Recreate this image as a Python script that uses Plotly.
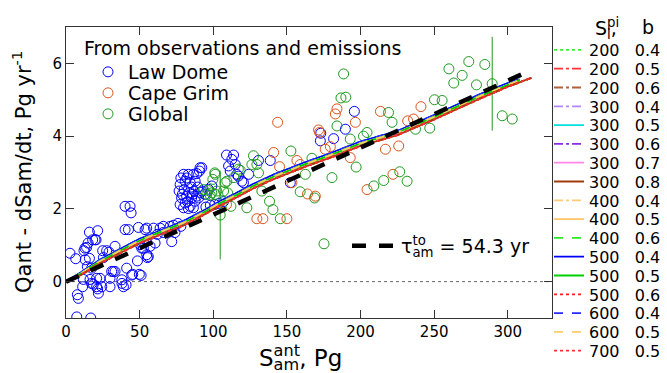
import plotly.graph_objects as go

FONT = "DejaVu Sans, Liberation Sans, Arial, sans-serif"

# ---------------- data ----------------
# Law Dome (blue circles): S_am^ant (Pg), Q_ant - dS_am/dt (Pg/yr)
LAW_X = [7.3, 16.8, 7.7, 8.4, 2.7, 6.6, 15.9, 21.5, 18.1, 20.4, 12.2, 14.0, 13.1, 15.9, 14.5, 17.4,
         24.9, 27.6, 25.4, 29.2, 11.8, 16.3, 20.8, 23.1, 11.3, 17.4, 18.6, 20.8, 22.0, 24.3, 29.9,
         31.0, 33.3, 29.9, 37.9, 39.0, 41.2, 45.3, 49.8, 51.0, 48.5, 40.1, 42.4, 49.2, 53.7, 40.1,
         43.5, 44.2, 55.3, 38.0, 21.5, 12.9, 15.0, 19.7, 33.3, 32.1, 40.8, 50.3, 52.5, 44.6,
         54.8, 59.4, 63.9, 66.1, 70.7, 71.8, 57.1, 60.5, 51.4, 54.8, 55.9, 73.0, 76.0, 78.0, 74.0,
         62.0, 66.0,
         79.8, 83.1, 86.5, 88.8, 92.2, 90.6, 77.5, 80.9, 84.3, 87.7, 76.8, 80.2, 83.6, 87.0, 78.5,
         81.9, 85.3, 88.8, 77.5, 80.9, 84.3, 87.7, 79.8, 83.1, 86.5, 82.0, 85.0, 79.0, 89.5, 90.0,
         91.5, 78.0, 82.5, 86.0, 95.0, 98.0, 101.0, 104.0, 107.0, 92.2, 94.4, 96.7,
         109.0, 113.8, 112.6, 110.4, 111.5, 116.0, 117.0, 119.4, 120.5, 124.0, 130.7, 138.7,
         91.0, 99.0, 152.3, 172.7, 173.0, 181.7, 189.7, 195.8, 114.9]
LAW_Y = [-0.97, -1.0, -0.36, -0.46, 0.78, 0.63, 1.36, 1.40, 1.15, 1.15, 0.85, 0.94, 0.60, 0.64, 0.41, 0.37,
         0.85, 0.85, 0.66, 0.81, 0.06, 0.06, 0.09, 0.09, -0.14, -0.05, -0.07, -0.14, -0.32, -0.14, 0.09,
         0.28, 0.28, -0.14, 0.05, -0.14, 0.37, 0.20, 0.20, 0.17, 0.57, 1.43, 1.43, 1.49, 1.43, 2.07,
         2.07, 1.89, 0.66, -0.05, -0.20, 0.92, 1.06, 1.15, 0.97, 0.28, -0.09, 1.02, 0.92, 0.18,
         1.47, 1.47, 1.47, 1.52, 1.52, 1.10, 0.97, 1.06, 0.92, 0.74, 0.69, 1.55, 1.60, 1.52, 1.35,
         1.30, 1.35,
         2.95, 2.95, 2.95, 2.97, 3.13, 3.04, 2.67, 2.76, 2.72, 2.76, 2.49, 2.53, 2.44, 2.49, 2.30,
         2.35, 2.30, 2.35, 2.12, 2.16, 2.07, 2.21, 2.03, 2.01, 2.03, 2.85, 2.60, 2.40, 2.60, 2.30,
         2.45, 2.85, 2.20, 2.40, 2.05, 2.10, 2.12, 2.15, 2.20, 2.49, 2.40, 2.54,
         3.48, 3.48, 3.36, 3.18, 3.04, 2.95, 2.90, 2.76, 2.72, 2.95, 3.33, 3.33,
         3.13, 2.63, 2.72, 3.87, 4.08, 3.93, 4.19, 4.68, 3.22]

# Cape Grim (orange circles)
CAPE_X = [143.7, 145.0, 171.5, 176.0, 179.5, 184.0, 182.9, 196.5, 193.0, 213.5, 204.4, 222.0, 225.9,
          164.0, 169.3, 156.8, 159.0, 172.2, 141.0, 153.4, 129.6, 133.7, 150.0, 241.0, 232.0, 236.0,
          216.9, 109.0]
CAPE_Y = [4.38, 3.16, 4.17, 3.64, 3.71, 4.75, 4.61, 4.38, 3.41, 4.68, 2.53, 2.95, 3.73,
          2.41, 2.35, 3.33, 3.22, 4.10, 3.55, 2.72, 1.73, 1.73, 1.73, 4.81, 4.42, 4.47,
          3.64, 2.12]

# Global (green circles)
GLOB_X = [188.5, 186.7, 190.0, 184.0, 193.0, 202.0, 204.4, 219.0, 221.4, 197.0, 180.6, 209.0, 215.7,
          152.7, 162.5, 159.0, 167.0, 127.3, 126.2, 129.6, 130.7, 117.0, 114.0, 101.0, 260.0, 273.5,
          284.4, 269.0, 263.3, 278.7, 250.2, 255.4, 247.0, 237.3, 296.2, 303.0, 226.6, 231.6,
          118.3, 168.8, 138.2, 140.5, 133.0, 145.5, 122.8, 112.0, 108.0, 107.0, 175.2, 101.3,
          99.7, 93.3, 96.7, 99.0, 102.4, 95.6, 97.9, 101.3, 109.2, 109.7]
GLOB_Y = [5.71, 5.05, 5.07, 4.28, 3.92, 4.00, 4.10, 4.65, 4.38, 3.15, 2.86, 2.63, 2.78,
          3.59, 2.95, 2.47, 3.39, 3.46, 3.22, 3.22, 2.99, 3.09, 2.86, 2.99, 5.85, 6.05,
          5.97, 5.67, 5.46, 5.41, 5.00, 4.98, 4.22, 4.19, 4.56, 4.47, 3.02, 2.76,
          3.06, 2.30, 2.21, 1.98, 2.49, 1.73, 2.03, 2.07, 2.72, 2.49, 1.04, 2.95,
          2.81, 2.53, 2.50, 2.44, 2.49, 2.40, 2.38, 2.40, 2.76, 2.44]
# Global points drawn with vertical error bars
GERR_X = [104.7, 289.4]
GERR_Y = [1.83, 5.44]
GERR_E = [1.22, 1.29]

# Model curves (three near-identical families)
S_MODEL = [0, 10, 23, 35, 50, 65, 80, 95, 105, 115, 127, 141, 161, 179, 200, 225, 250, 281, 300, 308]
Y_HIGH = [0, 0.25, 0.60, 0.85, 1.18, 1.42, 1.67, 1.99, 2.22, 2.42, 2.68, 2.94, 3.26, 3.52, 3.85, 4.14, 4.58, 5.15, 5.46, 5.56]
Y_MID = [0, 0.22, 0.56, 0.81, 1.13, 1.38, 1.62, 1.94, 2.17, 2.37, 2.63, 2.89, 3.21, 3.47, 3.80, 4.10, 4.53, 5.10, 5.42, 5.54]
S_MODEL_LOW = [0, 10, 23, 35, 50, 65, 80, 95, 105, 115, 127, 141, 161, 179, 200, 225, 250, 281, 300, 316]
Y_LOW = [0, 0.18, 0.50, 0.75, 1.06, 1.31, 1.55, 1.87, 2.10, 2.30, 2.56, 2.82, 3.14, 3.40, 3.73, 4.03, 4.46, 5.03, 5.36, 5.60]

SL_PI = [200, 200, 200, 300, 300, 300, 300, 300, 400, 400, 400, 500, 500, 500, 600, 600, 700]
B_VAL = ["0.4", "0.5", "0.6", "0.4", "0.5", "0.6", "0.7", "0.8", "0.4", "0.5", "0.6", "0.4", "0.5", "0.6", "0.4", "0.5", "0.5"]
FAMILY = ["mid", "low", "low", "high", "high", "mid", "mid", "low", "mid", "mid", "mid", "high", "mid", "low", "high", "mid", "low"]

# tau line (slope 1/54.3)
TAU_X = [0, 316]
TAU_Y = [0, 5.82]

X_TICKS = [0, 50, 100, 150, 200, 250, 300]
Y_TICKS = [0, 2, 4, 6]

# ---------------- styles ----------------
LINE_COLORS = ["#3fe83f", "#ff3333", "#b0603a", "#b385ff", "#00dede", "#8a2be2", "#ff85e6", "#a23c0c",
               "#ffcc77", "#ffc266", "#22ee22", "#0000ff", "#00d000", "#ff1a1a", "#2a2aff", "#ffcc66", "#ff3030"]
LINE_DASH = ["dot", "dashdot", "dashdot", "dashdot", "solid", "dashdot", "solid", "solid",
             "dashdot", "solid", "dash", "solid", "solid", "dot", "dash", "dash", "dot"]
BLUE = "#0000ff"
ORANGE = "#d9541a"
GREEN = "#1f9a1f"

W, H = 667, 373
L, R, T, B = 66, 552, 27, 318


def px_x(px):
    return (px - L) / (R - L)


def py_y(py):
    return (B - py) / (B - T)


fig = go.Figure()

circ = dict(symbol="circle-open", size=10, line=dict(width=1))
fig.add_trace(go.Scatter(x=LAW_X, y=LAW_Y, mode="markers", name="Law Dome",
                         marker=dict(color=BLUE, **circ), legend="legend"))
fig.add_trace(go.Scatter(x=CAPE_X, y=CAPE_Y, mode="markers", name="Cape Grim",
                         marker=dict(color=ORANGE, **circ), legend="legend2"))
fig.add_trace(go.Scatter(x=GLOB_X, y=GLOB_Y, mode="markers", name="Global",
                         marker=dict(color=GREEN, **circ), legend="legend3"))
fig.add_trace(go.Scatter(x=GERR_X, y=GERR_Y, mode="markers", showlegend=False,
                         marker=dict(color=GREEN, **circ),
                         error_y=dict(type="data", array=GERR_E, color=GREEN, thickness=1, width=0)))

curves = {"high": (S_MODEL, Y_HIGH), "mid": (S_MODEL, Y_MID), "low": (S_MODEL_LOW, Y_LOW)}
order = [i for i in range(len(SL_PI)) if FAMILY[i] == "high"] + \
        [i for i in range(len(SL_PI)) if FAMILY[i] == "mid"] + \
        [i for i in range(len(SL_PI)) if FAMILY[i] == "low"]
NB = "\u00a0"
for i in order:
    xs, ys = curves[FAMILY[i]]
    lg = "legend%d" % (i + 5)
    fig.add_trace(go.Scatter(x=xs, y=ys, mode="lines",
                             name=f"{SL_PI[i]}{NB*3}{B_VAL[i]}",
                             line=dict(color=LINE_COLORS[i], dash=LINE_DASH[i], width=1.8),
                             legend=lg))
    fig.update_layout({lg: dict(x=px_x(549), y=py_y(50 + 18.8 * i), xanchor="left", yanchor="middle",
                                bgcolor="rgba(0,0,0,0)", borderwidth=0,
                                font=dict(family=FONT, size=16, color="black"))})

fig.add_trace(go.Scatter(x=TAU_X, y=TAU_Y, mode="lines", name="",
                         line=dict(color="black", width=4.5, dash="14px,13px"),
                         legend="legend4"))

leg_font = dict(family=FONT, size=19, color="black")
for lg, py in [("legend", 72), ("legend2", 93), ("legend3", 114)]:
    fig.update_layout({lg: dict(x=px_x(88), y=py_y(py), xanchor="left", yanchor="middle",
                                bgcolor="rgba(0,0,0,0)", borderwidth=0, font=leg_font)})
fig.update_layout(legend4=dict(x=px_x(347), y=py_y(246), xanchor="left", yanchor="middle",
                               bgcolor="rgba(0,0,0,0)", borderwidth=0, itemwidth=41,
                               font=dict(family=FONT, size=18)))

axis_common = dict(showline=True, linecolor="#333", linewidth=1, mirror="allticks",
                   ticks="inside", ticklen=8, tickcolor="#333", showgrid=False, zeroline=False,
                   tickfont=dict(family=FONT, size=15, color="black"))
fig.update_xaxes(range=[0, 330], tickvals=X_TICKS, **axis_common)
fig.update_yaxes(range=[-1, 7], tickvals=Y_TICKS, **axis_common)

fig.add_shape(type="line", xref="paper", x0=0, x1=1, yref="y", y0=0, y1=0,
              line=dict(color="#666", width=1, dash="dot"), layer="below")

INV = '<span style="color:rgba(0,0,0,0)">{}</span>'
ann = []


def stacked(px, py, base, sup, sub, tail, size):
    a = base + "<sup>" + sup + "</sup><sub>" + INV.format(sub) + "</sub>"
    b = INV.format(base) + "<sub>" + sub + "</sub>" + tail + "<sup>" + INV.format(sup) + "</sup>"
    for t in (a, b):
        ann.append(dict(text=t, xref="paper", yref="paper", x=px_x(px), y=py_y(py),
                        xanchor="left", yanchor="middle", showarrow=False,
                        font=dict(family=FONT, size=size, color="black")))


stacked(257, 357, "S", "ant", "am", ", Pg", 23)
stacked(399, 246, "\u03c4", "to", "am", " = 54.3 yr", 19)
stacked(593, 29, "S", "pi", "l", ",", 19)
ann.append(dict(text="b", xref="paper", yref="paper", x=px_x(648), y=py_y(27), xanchor="center",
                yanchor="middle", showarrow=False, font=dict(family=FONT, size=19, color="black")))
ann.append(dict(text="From observations and emissions", xref="paper", yref="paper",
                x=px_x(82), y=py_y(48), xanchor="left", yanchor="middle", showarrow=False,
                font=dict(family=FONT, size=19, color="black")))
ann.append(dict(text="Qant - dSam/dt, Pg yr<sup>-1</sup>", xref="paper", yref="paper",
                x=px_x(22), y=py_y(172), xanchor="center", yanchor="middle", textangle=-90,
                showarrow=False, font=dict(family=FONT, size=21, color="black")))

fig.update_layout(width=W, height=H,
                  margin=dict(l=L, r=W - R, t=T, b=H - B, autoexpand=False),
                  paper_bgcolor="white", plot_bgcolor="white", annotations=ann,
                  font=dict(family=FONT, color="black"))

fig.write_html("out.html", config={"displayModeBar": False},
               post_script="document.body.style.margin='0';document.body.style.padding='0';")
